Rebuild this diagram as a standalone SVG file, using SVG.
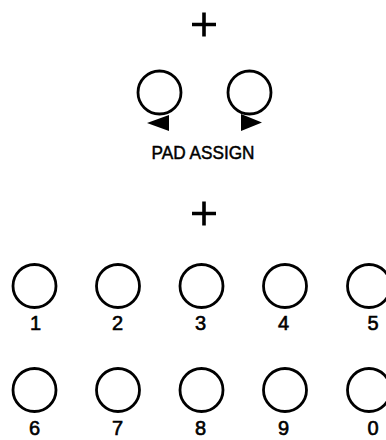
<svg xmlns="http://www.w3.org/2000/svg" width="386" height="440" viewBox="0 0 386 440">
<style>
.pad{fill:none;stroke:#000;stroke-width:2.8}
.plus{stroke:#000;stroke-width:3.6;stroke-linecap:butt;fill:none}
.tri{fill:#000}
.lbl{font-family:"Liberation Sans",Arial,Helvetica,sans-serif;font-size:20px;fill:#000;stroke:#000;stroke-width:0.6;text-anchor:middle}
.cap{font-family:"Liberation Sans",Arial,Helvetica,sans-serif;font-size:19px;fill:#000;stroke:#000;stroke-width:0.5;text-anchor:middle}
</style>
<rect width="386" height="440" fill="#fff"/>
<g id="plus-top"><path class="plus" d="M192 24.5H216M204 12.5V36.5"/></g>
<g id="assign-left"><circle class="pad" cx="159.5" cy="92.5" r="21.5"/><polygon class="tri" points="147,123 169,115 169,131"/></g>
<g id="assign-right"><circle class="pad" cx="249.5" cy="92.5" r="21.5"/><polygon class="tri" points="262,122.5 241,114 241,131"/></g>
<g id="assign-label"><text class="cap" x="203" y="159" textLength="103" lengthAdjust="spacingAndGlyphs">PAD ASSIGN</text></g>
<g id="plus-mid"><path class="plus" d="M192 213.5H216M204 201.5V225.5"/></g>
<g id="pad-1"><circle class="pad" cx="34.5" cy="286" r="21.5"/><text class="lbl" x="35.5" y="330">1</text></g>
<g id="pad-2"><circle class="pad" cx="118" cy="286" r="21.5"/><text class="lbl" x="117.5" y="330">2</text></g>
<g id="pad-3"><circle class="pad" cx="201.5" cy="286" r="21.5"/><text class="lbl" x="200.5" y="330">3</text></g>
<g id="pad-4"><circle class="pad" cx="285" cy="286" r="21.5"/><text class="lbl" x="283.5" y="330">4</text></g>
<g id="pad-5"><circle class="pad" cx="369" cy="286" r="21.5"/><text class="lbl" x="373" y="330">5</text></g>
<g id="pad-6"><circle class="pad" cx="34.5" cy="390" r="21.5"/><text class="lbl" x="34.5" y="435">6</text></g>
<g id="pad-7"><circle class="pad" cx="118" cy="390" r="21.5"/><text class="lbl" x="117.5" y="435">7</text></g>
<g id="pad-8"><circle class="pad" cx="201.5" cy="390" r="21.5"/><text class="lbl" x="200.5" y="435">8</text></g>
<g id="pad-9"><circle class="pad" cx="285" cy="390" r="21.5"/><text class="lbl" x="283.5" y="435">9</text></g>
<g id="pad-0"><circle class="pad" cx="369" cy="390" r="21.5"/><text class="lbl" x="373" y="435">0</text></g>
</svg>
